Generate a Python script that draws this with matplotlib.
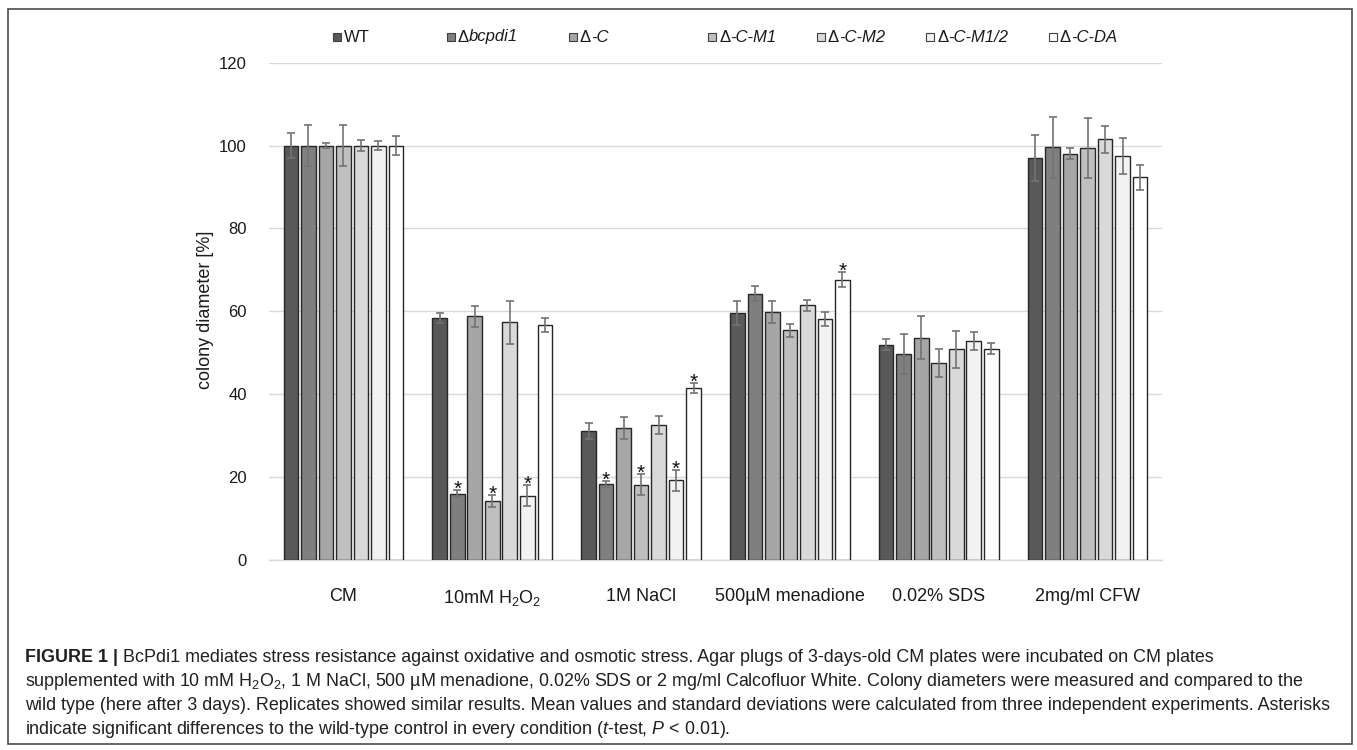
import numpy as np
import matplotlib
matplotlib.use("Agg")
import matplotlib.pyplot as plt
from matplotlib.patches import Rectangle

plt.rcParams['font.family'] = ['Liberation Sans', 'DejaVu Sans']
plt.rcParams['mathtext.fontset'] = 'custom'
plt.rcParams['mathtext.rm'] = 'Liberation Sans'
plt.rcParams['mathtext.it'] = 'Liberation Sans:italic'
plt.rcParams['mathtext.default'] = 'regular'

# Datos
categories = ['CM', '10mM H$_2$O$_2$', '1M NaCl', '500µM menadione', '0.02% SDS', '2mg/ml CFW']
strain_prefix = ['', 'Δ', 'Δ', 'Δ', 'Δ', 'Δ', 'Δ']
strain_names = ['WT', 'bcpdi1', '-C', '-C-M1', '-C-M2', '-C-M1/2', '-C-DA']
strain_colors = ['#595959', '#7f7f7f', '#a6a6a6', '#bfbfbf', '#d9d9d9', '#f2f2f2', '#ffffff']

wt = [100, 58.5, 31.1, 59.6, 52.0, 97.0]
bcpdi1 = [100, 16.0, 18.3, 64.3, 49.7, 99.6]
dc = [100, 58.8, 31.8, 59.9, 53.6, 98.0]
dc_m1 = [100, 14.3, 18.2, 55.4, 47.5, 99.4]
dc_m2 = [100, 57.4, 32.5, 61.5, 50.8, 101.5]
dc_m12 = [100, 15.5, 19.2, 58.1, 52.8, 97.5]
dc_da = [100, 56.7, 41.6, 67.6, 51.0, 92.3]

wt_err = [3.1, 1.2, 2.0, 3.0, 1.4, 5.6]
bcpdi1_err = [5.0, 0.8, 0.8, 1.8, 4.8, 7.4]
dc_err = [0.7, 2.5, 2.6, 2.6, 5.2, 1.3]
dc_m1_err = [4.9, 1.5, 2.5, 1.6, 3.3, 7.2]
dc_m2_err = [1.3, 5.2, 2.2, 1.3, 4.4, 3.2]
dc_m12_err = [1.0, 2.5, 2.5, 1.7, 2.1, 4.3]
dc_da_err = [2.3, 1.8, 1.2, 1.8, 1.4, 3.0]

# (condicion, cepa) con diferencia significativa
significant = [(1, 1), (1, 3), (1, 5), (2, 1), (2, 3), (2, 5), (2, 6), (3, 6)]

means = [wt, bcpdi1, dc, dc_m1, dc_m2, dc_m12, dc_da]
errors = [wt_err, bcpdi1_err, dc_err, dc_m1_err, dc_m2_err, dc_m12_err, dc_da_err]

W, H = 1357, 750
fig = plt.figure(figsize=(W / 100, H / 100), dpi=100)
ax = fig.add_axes([269 / W, 1 - 560 / H, (1162 - 269) / W, (560 - 62.7) / H])

text_color = '#1a1a1a'
x = np.arange(len(categories))
pitch = 0.1176
width = 0.0975

for i in range(len(means)):
    pos = x + (i - 3) * pitch
    ax.bar(pos, means[i], width, color=strain_colors[i], edgecolor='#262626',
           linewidth=1.0, zorder=3)
    ax.errorbar(pos, means[i], yerr=errors[i], fmt='none', ecolor='#737373',
                elinewidth=1.2, capsize=3, capthick=1.2, zorder=4)

for c, s in significant:
    top = means[s][c] + errors[s][c]
    ax.annotate('*', (x[c] + (s - 3) * pitch, top), xytext=(0, -3.5),
                textcoords='offset points', ha='center', va='baseline',
                fontsize=15, color='#111111', zorder=5)

ax.set_xlim(-0.5, len(categories) - 0.5)
ax.set_ylim(0, 120)
ax.set_yticks(np.arange(0, 121, 20))
ax.set_xticks(x)
ax.set_xticklabels(categories, fontsize=13, color=text_color)
ax.tick_params(axis='x', length=0, pad=20)
ax.tick_params(axis='y', length=0, pad=16, labelsize=12, labelcolor=text_color)
ax.grid(axis='y', color='#d9d9d9', linewidth=1.0, zorder=0)
ax.set_axisbelow(True)
for side in ['top', 'right', 'left']:
    ax.spines[side].set_visible(False)
ax.spines['bottom'].set_color('#d9d9d9')
ax.spines['bottom'].set_linewidth(1.0)

fig.text(205 / W, 1 - 310 / H, 'colony diameter [%]', rotation=90, ha='center',
         va='center', fontsize=13, color=text_color)

# Leyenda manual (como en Excel)
legend_x = [337, 451, 573, 712, 821, 930, 1053]
legend_y = 37
for i in range(len(strain_names)):
    lx = legend_x[i]
    fig.add_artist(Rectangle(((lx - 4) / W, 1 - (legend_y + 4) / H), 8 / W, 8 / H,
                             transform=fig.transFigure, facecolor=strain_colors[i],
                             edgecolor='#404040', linewidth=0.8))
    if strain_prefix[i]:
        t = fig.text((lx + 7) / W, 1 - legend_y / H, strain_prefix[i], ha='left',
                     va='center', fontsize=12, color=text_color)
        # el resto del nombre en cursiva, pegado al simbolo delta
        ax.annotate(strain_names[i], xy=(1, 0), xycoords=t, ha='left', va='bottom',
                    fontsize=12, style='italic', color=text_color, annotation_clip=False)
    else:
        fig.text((lx + 7) / W, 1 - legend_y / H, strain_names[i], ha='left',
                 va='center', fontsize=12, color=text_color)

# Marco de la figura
fig.add_artist(Rectangle((8 / W, 1 - 744 / H), (1352 - 8) / W, (744 - 9) / H,
                         transform=fig.transFigure, fill=False,
                         edgecolor='#4d4d4d', linewidth=1.2))

# Pie de figura
cap_size = 12.9
cap_color = '#231f20'
cap_x = 25 / W
head = fig.text(cap_x, 1 - 657 / H, 'FIGURE 1 |', ha='left', va='center',
                fontsize=cap_size, weight='bold', color=cap_color)
ax.annotate(' BcPdi1 mediates stress resistance against oxidative and osmotic stress. '
            'Agar plugs of 3-days-old CM plates were incubated on CM plates',
            xy=(1, 0), xycoords=head, ha='left', va='bottom', fontsize=cap_size,
            color=cap_color, annotation_clip=False)
caption_lines = [
    'supplemented with 10 mM H$_2$O$_2$, 1 M NaCl, 500 µM menadione, 0.02% SDS or '
    '2 mg/ml Calcofluor White. Colony diameters were measured and compared to the',
    'wild type (here after 3 days). Replicates showed similar results. Mean values and '
    'standard deviations were calculated from three independent experiments. Asterisks',
    'indicate significant differences to the wild-type control in every condition '
    '($\\mathit{t}$-test, $\\mathit{P}$ < 0.01).',
]
for k, line in enumerate(caption_lines):
    fig.text(cap_x, 1 - (681 + 24 * k) / H, line, ha='left', va='center',
             fontsize=cap_size, color=cap_color)

fig.savefig('out.png', dpi=100)
